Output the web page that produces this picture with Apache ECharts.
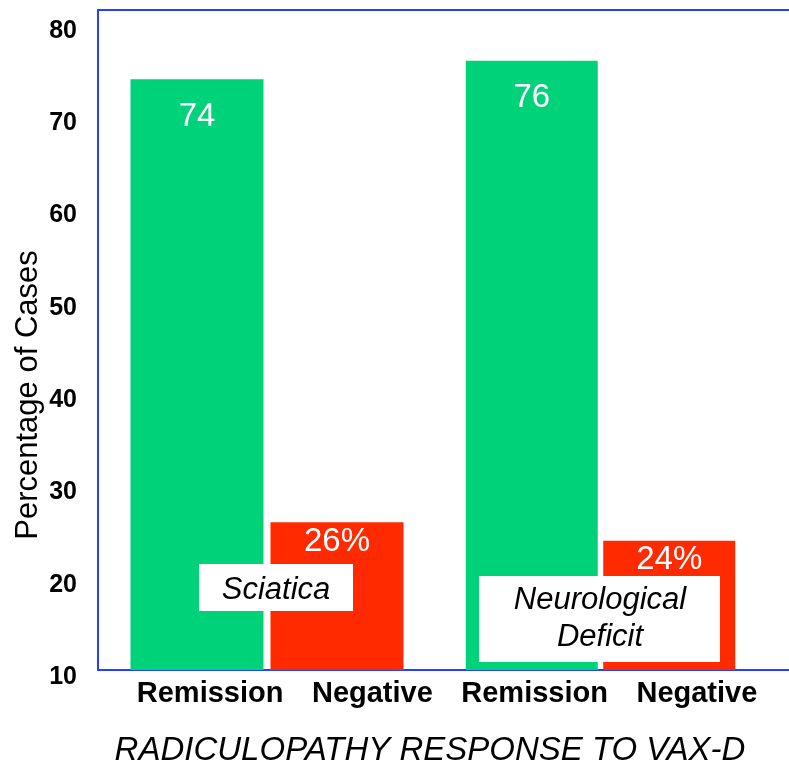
<!DOCTYPE html>
<html>
<head>
<meta charset="utf-8">
<script src="https://cdn.jsdelivr.net/npm/echarts@6/dist/echarts.min.js"></script>
<style>
  html, body { margin: 0; padding: 0; background: #ffffff; }
  #chart { width: 789px; height: 763px; }
</style>
</head>
<body>
<div id="chart"></div>
<script>
// Outcome categories shown under each pair of bars
const outcomes = ['Remission', 'Negative'];
// Condition groups (annotated inside each pair)
const groupNames = ['Sciatica', 'Neurological\nDeficit'];
// Percentage of cases per outcome, one array per condition
const sciatica = [74, 26];
const neuroDeficit = [76, 24];
// Value axis range and step
const yMin = 10;
const yMaxTick = 80;
const yStep = 10;

const FONT = "'Liberation Sans', Arial, Helvetica, sans-serif";
const BLUE = '#2342ff';
const GREEN = '#00d27a';
const RED = '#ff2a00';
const outcomeColors = [GREEN, RED];

const chart = echarts.init(document.getElementById('chart'), null, { renderer: 'canvas' });

const plotTop = 10, plotBottom = 93;
// upper end of the frame sits a little above the last tick
const yMaxFrame = 81.5;

function makeGrid(extra) {
  return Object.assign({
    top: plotTop, bottom: plotBottom,
    containLabel: false, outerBoundsMode: 'none'
  }, extra);
}

function hiddenY(gridIndex) {
  return {
    type: 'value', gridIndex, min: yMin, max: yMaxFrame,
    show: false, splitLine: { show: false }
  };
}

function barSeries(values, xIdx, yIdx, width) {
  return {
    type: 'bar',
    xAxisIndex: xIdx, yAxisIndex: yIdx,
    barWidth: width,
    data: values.map((v, i) => ({
      value: v,
      itemStyle: { color: outcomeColors[i] },
      label: { distance: i === 0 ? 21 : 3 }
    })),
    label: {
      show: true,
      position: 'insideTop',
      color: '#ffffff',
      fontFamily: FONT,
      fontSize: 33,
      formatter: p => p.dataIndex === 1 ? p.value + '%' : String(p.value)
    },
    z: 3
  };
}

const option = {
  backgroundColor: '#ffffff',
  animation: false,
  grid: [
    // frame with the value axis
    makeGrid({ left: 98, right: 0 }),
    // outcome labels under the bars
    makeGrid({ left: 129, width: 649 }),
    // Sciatica pair
    makeGrid({ left: 127, width: 280 }),
    // Neurological deficit pair
    makeGrid({ left: 463, width: 275 })
  ],
  xAxis: [
    {
      type: 'value', gridIndex: 0, min: 0, max: 1, position: 'bottom',
      axisLine: { show: true, onZero: false, lineStyle: { color: BLUE, width: 2 } },
      axisTick: { show: false }, axisLabel: { show: false }, splitLine: { show: false },
      name: 'RADICULOPATHY RESPONSE TO VAX-D',
      nameLocation: 'middle',
      nameGap: 64,
      nameTextStyle: {
        fontFamily: FONT, fontSize: 33, fontStyle: 'italic', color: '#000000',
        padding: [0, 27, 0, 0]
      }
    },
    {
      type: 'value', gridIndex: 0, min: 0, max: 1, position: 'top',
      axisLine: { show: true, onZero: false, lineStyle: { color: BLUE, width: 2 } },
      axisTick: { show: false }, axisLabel: { show: false }, splitLine: { show: false }
    },
    {
      type: 'category', gridIndex: 1, data: outcomes.concat(outcomes),
      axisLine: { show: false }, axisTick: { show: false },
      axisLabel: {
        interval: 0, hideOverlap: false,
        margin: 9, color: '#000000', fontFamily: FONT, fontSize: 29, fontWeight: 'bold'
      }
    },
    { type: 'category', gridIndex: 2, data: outcomes, show: false },
    { type: 'category', gridIndex: 3, data: outcomes, show: false }
  ],
  yAxis: [
    {
      type: 'value', gridIndex: 0, min: yMin, max: yMaxFrame, interval: yStep,
      axisLine: { show: true, onZero: false, lineStyle: { color: BLUE, width: 2 } },
      axisTick: { show: false },
      splitLine: { show: false },
      axisLabel: {
        showMaxLabel: false,
        margin: 21,
        lineHeight: 14,
        color: '#000000', fontFamily: FONT, fontSize: 25, fontWeight: 'bold',
        // an empty first line drops each tick value slightly below its tick
        formatter: v => (v <= yMaxTick && (v - yMin) % yStep === 0) ? '\n' + v : ''
      }
    },
    hiddenY(1),
    hiddenY(2),
    hiddenY(3)
  ],
  series: [
    barSeries(sciatica, 3, 2, 133),
    barSeries(neuroDeficit, 4, 3, 132)
  ],
  graphic: [
    {
      type: 'text', x: 28, y: 395, rotation: Math.PI / 2, z: 50,
      style: {
        text: 'Percentage of Cases', fill: '#000000',
        font: '31px ' + FONT, textAlign: 'center', textVerticalAlign: 'middle'
      }
    },
    {
      type: 'rect', z: 100,
      shape: { x: 199, y: 564, width: 154, height: 47 },
      style: { fill: '#ffffff' }
    },
    {
      type: 'text', x: 276, y: 590, z: 101,
      style: {
        text: groupNames[0], fill: '#000000',
        font: 'italic 31px ' + FONT, textAlign: 'center', textVerticalAlign: 'middle'
      }
    },
    {
      type: 'rect', z: 100,
      shape: { x: 479, y: 576, width: 241, height: 86 },
      style: { fill: '#ffffff' }
    },
    {
      type: 'text', x: 600, y: 619, z: 101,
      style: {
        text: groupNames[1], fill: '#000000', lineHeight: 37,
        font: 'italic 31px ' + FONT, textAlign: 'center', textVerticalAlign: 'middle'
      }
    }
  ]
};

chart.setOption(option);
</script>
</body>
</html>
